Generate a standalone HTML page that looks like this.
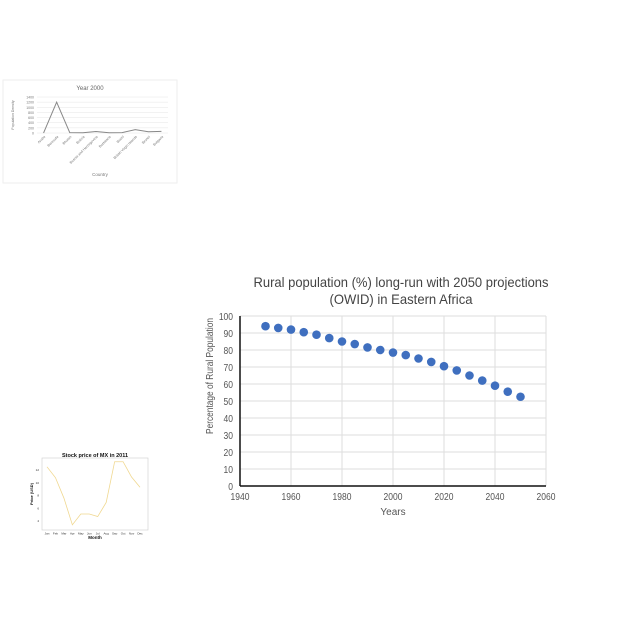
<!DOCTYPE html>
<html><head><meta charset="utf-8"><style>
html,body{margin:0;padding:0;background:#fff;width:640px;height:640px;overflow:hidden}
svg{font-family:"Liberation Sans",sans-serif}
</style></head><body>
<svg id="s" width="640" height="640" viewBox="0 0 640 640"></svg>
<script>
// Main chart data
const years=[1950,1955,1960,1965,1970,1975,1980,1985,1990,1995,2000,2005,2010,2015,2020,2025,2030,2035,2040,2045,2050];
const ruralPct=[94,93,92,90.5,89,87,85,83.5,81.5,80,78.5,77,75,73,70.5,68,65,62,59,55.5,52.5];
const xTicks=[1940,1960,1980,2000,2020,2040,2060];
const yTicks=[0,10,20,30,40,50,60,70,80,90,100];
// Top-left chart data
const countries=["Aruba","Bermuda","Bhutan","Bolivia","Bosnia and Herzegovina","Botswana","Brazil","British Virgin Islands","Brunei","Bulgaria"];
const density=[0,1200,15,10,60,10,15,130,50,65];
const densityTicks=[0,200,400,600,800,1000,1200,1400];
// Bottom-left chart data
const months=["Jan","Feb","Mar","Apr","May","Jun","Jul","Aug","Sep","Oct","Nov","Dec"];
const price=[12.5,10.8,7.6,3.4,5.1,5.1,4.7,6.9,13.3,13.3,10.9,9.3];
const priceTicks=[4,6,8,10,12];

const NS="http://www.w3.org/2000/svg",S=document.getElementById('s');
function el(t,a,p){const e=document.createElementNS(NS,t);for(const k in a)e.setAttribute(k,a[k]);(p||S).appendChild(e);return e;}
function tx(x,y,s,a,p){const e=el('text',Object.assign({x:x,y:y},a),p);e.textContent=s;return e;}

// ===== main chart =====
const X0=240,X1=546,Y0=486,Y1=316;
const mx=v=>X0+(v-1940)/(120)*(X1-X0), my=v=>Y0-v/100*(Y0-Y1);
const g=el('g',{});
let t=tx(401,287,"Rural population (%) long-run with 2050 projections",{'font-size':14,'text-anchor':'middle',fill:'#444',textLength:295,lengthAdjust:'spacingAndGlyphs'},g);

t=tx(401,304,"(OWID) in Eastern Africa",{'font-size':14,'text-anchor':'middle',fill:'#444',textLength:143,lengthAdjust:'spacingAndGlyphs'},g);

yTicks.forEach(v=>{const l=el('line',{x1:X0,x2:X1,y1:my(v),y2:my(v),stroke:'#ddd'},g);
 const k=tx(X0-7,my(v)+4,v,{'font-size':10,'text-anchor':'end',fill:'#555',transform:`translate(${X0-7},0) scale(0.85,1) translate(${-(X0-7)},0)`},g);});
xTicks.forEach(v=>{const l=el('line',{x1:mx(v),x2:mx(v),y1:Y1,y2:Y0,stroke:'#ddd'},g);
 const k=tx(mx(v),Y0+14,v,{'font-size':10,'text-anchor':'middle',fill:'#555',transform:`translate(${mx(v)},0) scale(0.85,1) translate(${-mx(v)},0)`},g);});
let ax=el('line',{x1:X0,x2:X1,y1:Y0,y2:Y0,stroke:'#111','stroke-width':1.5},g);
ax=el('line',{x1:X0,x2:X0,y1:Y1,y2:Y0,stroke:'#111','stroke-width':1.5},g);
years.forEach((y,i)=>{const c=el('circle',{cx:mx(y),cy:my(ruralPct[i]),r:4.3,fill:'#3f6fbf'},g);});
t=tx(393,515,"Years",{'font-size':10,'text-anchor':'middle',fill:'#555'},g);
t=tx(0,0,"Percentage of Rural Population",{'font-size':10,'text-anchor':'middle',fill:'#555',textLength:116,lengthAdjust:'spacingAndGlyphs',transform:'translate(213,376) rotate(-90)'},g);

// ===== top-left chart =====
const g2=el('g',{});
let r=el('rect',{x:3,y:80,width:174,height:103,fill:'#fff',stroke:'#eee'},g2);
const A0=37,A1=168,B0=133,B1=97;
const ax2=i=>A0+(i+0.5)*(A1-A0)/countries.length, ay2=v=>B0-v/1400*(B0-B1);
t=tx(90,90,"Year 2000",{'font-size':6,'text-anchor':'middle',fill:'#666'},g2);
densityTicks.forEach(v=>{const l=el('line',{x1:A0,x2:A1,y1:ay2(v),y2:ay2(v),stroke:'#e6e6e6','stroke-width':0.5},g2);
 const k=tx(A0-3,ay2(v)+1.5,v,{'font-size':3.5,'text-anchor':'end',fill:'#777'},g2);});
let p=el('polyline',{points:density.map((v,i)=>ax2(i)+','+ay2(v)).join(' '),fill:'none',stroke:'#888','stroke-width':1},g2);
countries.forEach((c,i)=>{const k=tx(0,0,c,{'font-size':3.5,'text-anchor':'end',fill:'#777',transform:`translate(${ax2(i)+2},${B0+4}) rotate(-45)`},g2);});
t=tx(100,176,"Country",{'font-size':4.5,'text-anchor':'middle',fill:'#777'},g2);
t=tx(0,0,"Population Density",{'font-size':3.5,'text-anchor':'middle',fill:'#777',transform:'translate(14,115) rotate(-90)'},g2);

// ===== bottom-left chart =====
const g3=el('g',{});
const C0=42,C1=148,D0=530,D1=458;
const cx=i=>47+i*(140-47)/11, cy=v=>470+(12-v)*(521-470)/8;
r=el('rect',{x:C0,y:D1,width:C1-C0,height:D0-D1,fill:'none',stroke:'#ccc','stroke-width':0.6},g3);
t=tx(95,457,"Stock price of MX in 2011",{'font-size':5.5,'font-weight':'bold','text-anchor':'middle',fill:'#111'},g3);
priceTicks.forEach(v=>{const k=tx(C0-3,cy(v)+1.2,v,{'font-size':3,'text-anchor':'end',fill:'#333'},g3);});
months.forEach((m,i)=>{const k=tx(cx(i),D0+4.5,m,{'font-size':3,'text-anchor':'middle',fill:'#333'},g3);});
p=el('polyline',{points:price.map((v,i)=>cx(i)+','+cy(v)).join(' '),fill:'none',stroke:'#f0d890','stroke-width':0.8},g3);
t=tx(95,539,"Month",{'font-size':4.5,'font-weight':'bold','text-anchor':'middle',fill:'#111'},g3);
t=tx(0,0,"Price (USD)",{'font-size':4,'font-weight':'bold','text-anchor':'middle',fill:'#111',transform:'translate(33,494) rotate(-90)'},g3);
</script>
</body></html>
